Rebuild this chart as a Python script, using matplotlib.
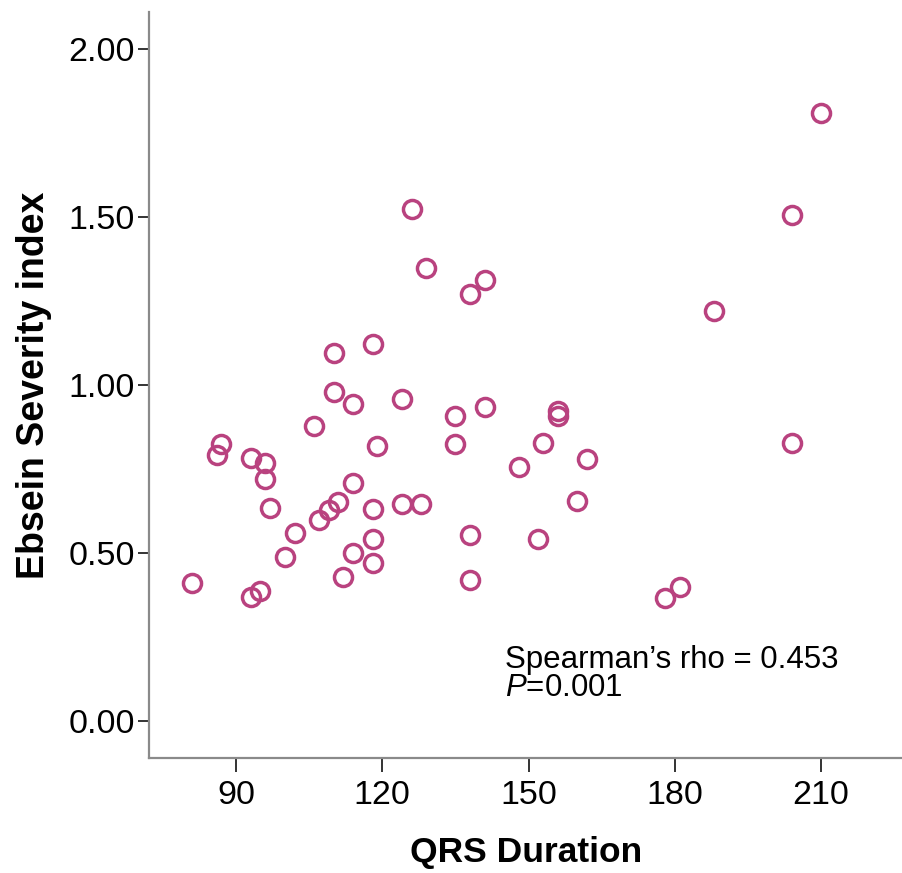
import matplotlib
matplotlib.use("Agg")
import matplotlib.pyplot as plt

plt.rcParams['font.family'] = ['Liberation Sans', 'DejaVu Sans']
plt.rcParams['mathtext.fontset'] = 'custom'
plt.rcParams['mathtext.it'] = 'Liberation Sans:italic'
plt.rcParams['mathtext.rm'] = 'Liberation Sans'

qrs_duration = [210, 204, 188, 204, 181, 178, 126, 129, 141, 138, 118, 110, 110,
                124, 114, 141, 135, 156, 156, 106, 87, 86, 93, 96, 96, 119, 135,
                153, 148, 162, 114, 160, 97, 111, 109, 107, 118, 124, 128, 102,
                118, 138, 152, 100, 114, 118, 112, 138, 81, 93, 95]
ebstein_index = [1.811, 1.507, 1.220, 0.828, 0.397, 0.365, 1.523, 1.349, 1.311,
                 1.270, 1.121, 1.094, 0.980, 0.957, 0.943, 0.934, 0.906, 0.922,
                 0.908, 0.878, 0.824, 0.790, 0.781, 0.767, 0.720, 0.818, 0.823,
                 0.828, 0.755, 0.779, 0.709, 0.655, 0.633, 0.651, 0.628, 0.598,
                 0.631, 0.645, 0.645, 0.560, 0.540, 0.553, 0.540, 0.489, 0.499,
                 0.469, 0.429, 0.418, 0.409, 0.369, 0.387]

x_ticks = [90, 120, 150, 180, 210]
y_ticks = [0.0, 0.5, 1.0, 1.5, 2.0]
y_tick_labels = ["0.00", "0.50", "1.00", "1.50", "2.00"]

fig = plt.figure(figsize=(9.03, 8.73), dpi=100)
ax = fig.add_axes([0.165, 0.1317, 0.835, 0.854])

ax.plot(qrs_duration, ebstein_index, linestyle='none', marker='o',
        markersize=13, markerfacecolor='none', markeredgecolor='#B9427F',
        markeredgewidth=2.5)

ax.set_xlim(72.15, 226.8)
ax.set_ylim(-0.111, 2.109)
ax.set_xticks(x_ticks)
ax.set_xticklabels([str(v) for v in x_ticks])
ax.set_yticks(y_ticks)
ax.set_yticklabels(y_tick_labels)

for s in ['top', 'right']:
    ax.spines[s].set_visible(False)
for s in ['left', 'bottom']:
    ax.spines[s].set_color('#8a8a8a')
    ax.spines[s].set_linewidth(1.6)

ax.tick_params(axis='x', length=10, width=1.4, color='#333333', labelsize=24.5, pad=6)
ax.tick_params(axis='y', length=8, width=1.4, color='#333333', labelsize=24.5, pad=2)

ax.set_xlabel("QRS Duration", fontsize=25.5, fontweight='bold')
ax.xaxis.set_label_coords(0.5, -0.105)
ax.xaxis.label.set_va('top')
ax.set_ylabel("Ebsein Severity index", fontsize=27, fontweight='bold', labelpad=12)

ax.text(145.2, 0.157, "Spearman\u2019s rho = 0.453", fontsize=22.5, va='baseline', ha='left')
ax.text(145.2, 0.0736, "$\\it{P}$=0.001", fontsize=22.5, va='baseline', ha='left')

fig.savefig("out.png", dpi=100)
